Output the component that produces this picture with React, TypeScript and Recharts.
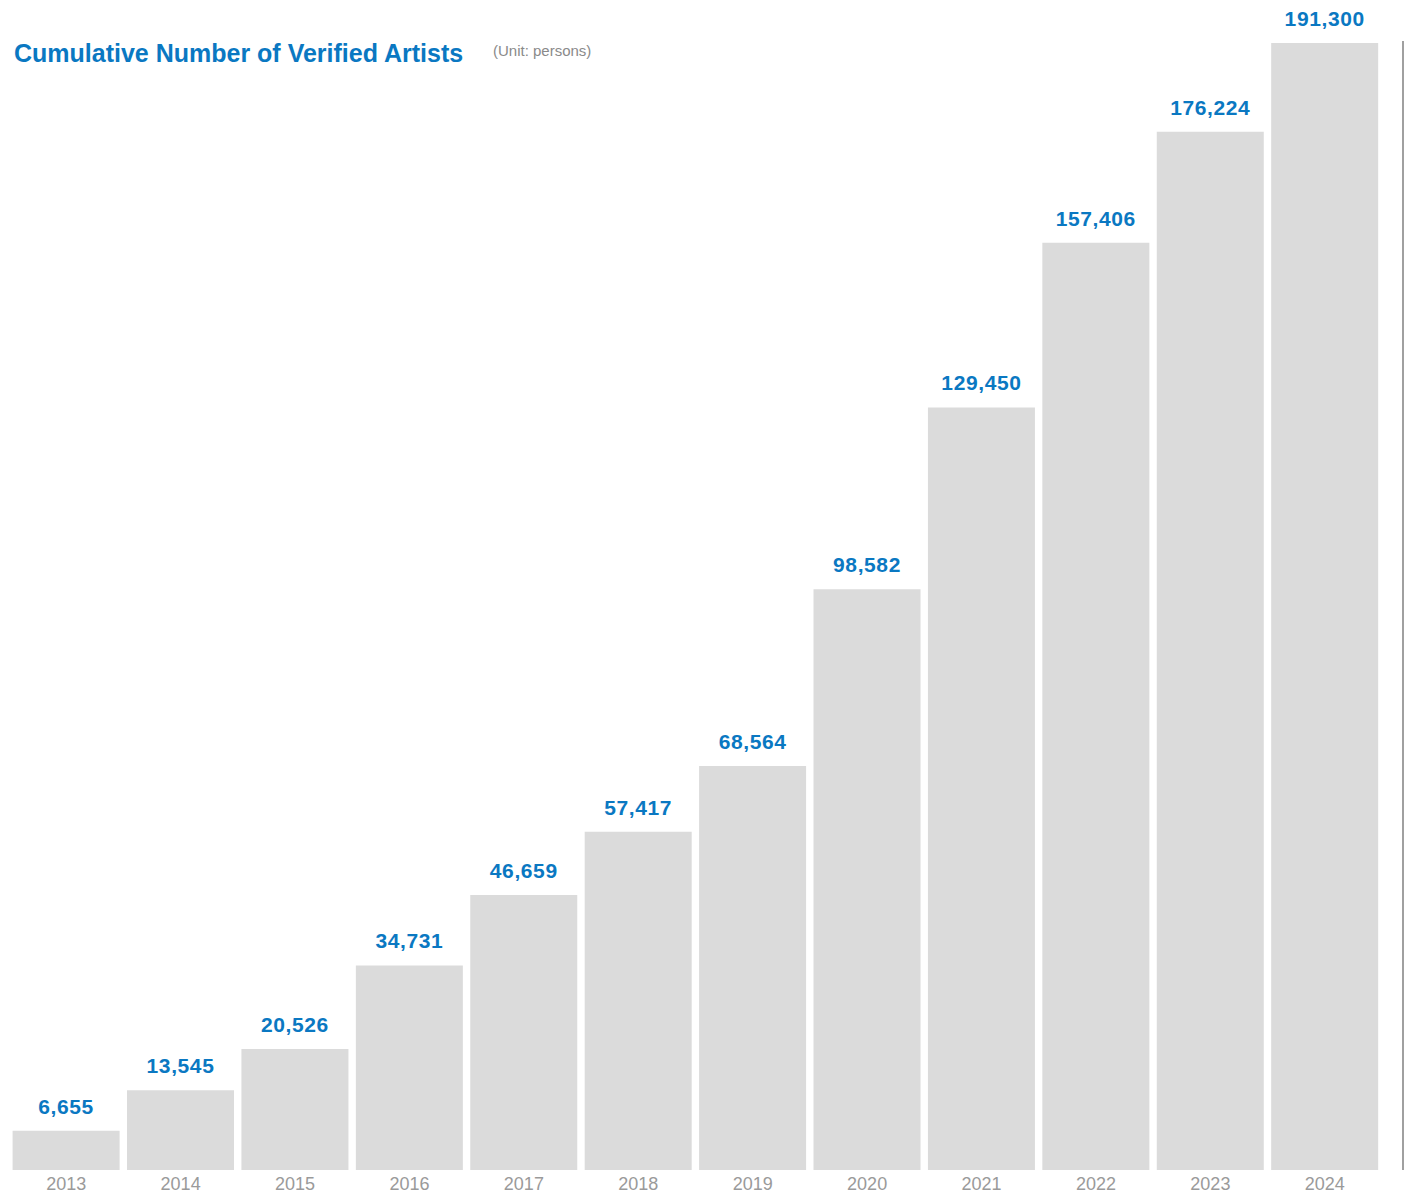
import { Bar, BarChart, LabelList, XAxis, YAxis } from "recharts";

const BLUE = "#0a78c2";
const BAR = "#dbdbdb";

const years = ["2013", "2014", "2015", "2016", "2017", "2018", "2019", "2020", "2021", "2022", "2023", "2024"];
const artists = [6655, 13545, 20526, 34731, 46659, 57417, 68564, 98582, 129450, 157406, 176224, 191300];

const data = years.map((year, i) => ({ year, artists: artists[i] }));

export default function App() {
  return (
    <div style={{ position: "absolute", left: 0, top: 0, width: 1406, height: 1194, background: "#fff", fontFamily: "'Liberation Sans', Arial, sans-serif" }}>
      <BarChart width={1406} height={1194} data={data} margin={{ top: 43, right: 24, left: 9, bottom: 0 }} barCategoryGap={3.6}>
        <XAxis dataKey="year" axisLine={false} tickLine={false} height={24} tickMargin={1}
          tick={{ fontSize: 18, fill: "#9a9a9a", fontFamily: "'Liberation Sans', Arial, sans-serif" }} />
        <YAxis hide domain={[0, "dataMax"]} />
        <Bar dataKey="artists" fill={BAR} isAnimationActive={false}>
          <LabelList dataKey="artists" position="top" offset={17}
            formatter={(v: number) => Number(v).toLocaleString("en-US")}
            style={{ fill: BLUE, fontSize: 21, fontWeight: 700, letterSpacing: 0.6, fontFamily: "'Liberation Sans', Arial, sans-serif" }} />
        </Bar>
      </BarChart>
      <div style={{ position: "absolute", left: 1402, top: 41, width: 1.5, height: 1129, background: "#a0a0a0" }} />
      <div style={{ position: "absolute", left: 14, top: 39, fontSize: 25, fontWeight: 700, color: BLUE, whiteSpace: "nowrap" }}>
        Cumulative Number of Verified Artists
      </div>
      <div style={{ position: "absolute", left: 493, top: 42, fontSize: 15, color: "#8a8a8a", whiteSpace: "nowrap" }}>
        (Unit: persons)
      </div>
    </div>
  );
}
